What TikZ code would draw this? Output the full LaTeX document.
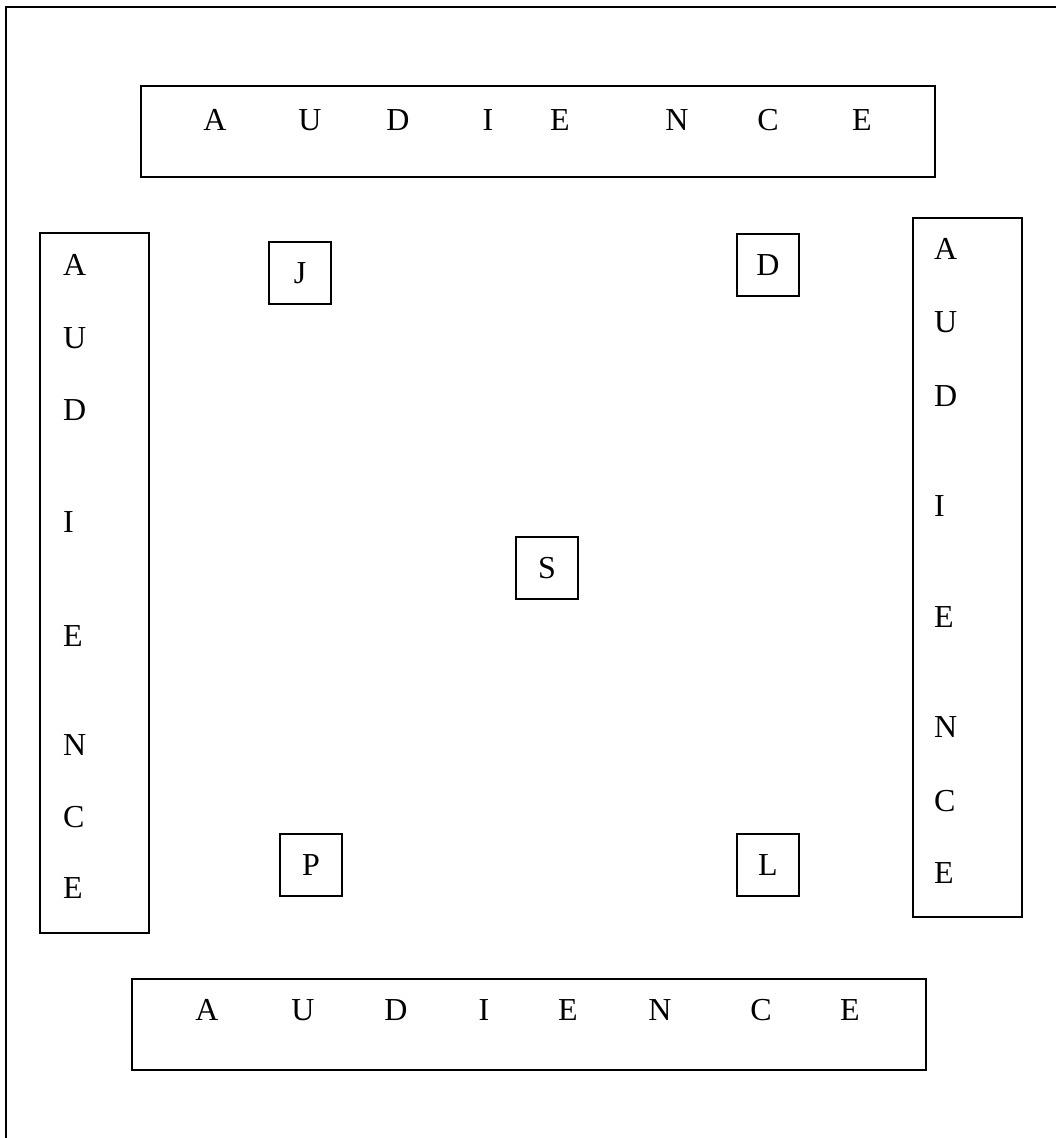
\documentclass[tikz,border=0pt]{standalone}
\usepackage{fontspec}
\setmainfont{Liberation Serif}
\tikzset{
  seat/.style={draw, line width=1pt, minimum size=31pt, inner sep=0pt, font=\fontsize{16}{19}\selectfont},
  letter/.style={inner sep=0pt, font=\fontsize{16}{19}\selectfont},
}
\begin{document}
\begin{tikzpicture}[x=0.5pt, y=-0.5pt, line width=1pt]
\useasboundingbox (0,0) rectangle (1055,1138);
% Outer frame, runs off at right and bottom
\draw (5.5,1145) -- (5.5,7) -- (1060,7);
% Audience boxes
\draw (141,86) rectangle (935,177);
\draw (132,979) rectangle (926,1070);
\draw (40,233) rectangle (149,933);
\draw (913,218) rectangle (1022,917);
% Top and bottom letters
\foreach \x/\c [count=\i] in {215/A,310/U,398/D,488/I,560/E,677/N,768/C,862/E}
  \node[letter] (top\i) at (\x,120) {\c};
\foreach \x/\c [count=\i] in {207/A,303/U,396/D,484/I,568/E,660/N,761/C,850/E}
  \node[letter] (bot\i) at (\x,1010) {\c};
% Left and right letters
\foreach \y/\c [count=\i] in {265/A,338/U,410/D,522/I,636/E,745/N,817/C,888/E}
  \node[letter, anchor=west] (left\i) at (62,\y) {\c};
\foreach \y/\c [count=\i] in {249/A,322/U,396/D,506/I,617/E,727/N,801/C,873/E}
  \node[letter, anchor=west] (right\i) at (933,\y) {\c};
% Players
\node[seat] (J) at (300,273) {J};
\node[seat] (D) at (768,265) {D};
\node[seat] (S) at (547,568) {S};
\node[seat] (P) at (311,865) {P};
\node[seat] (L) at (768,865) {L};
\end{tikzpicture}
\end{document}
